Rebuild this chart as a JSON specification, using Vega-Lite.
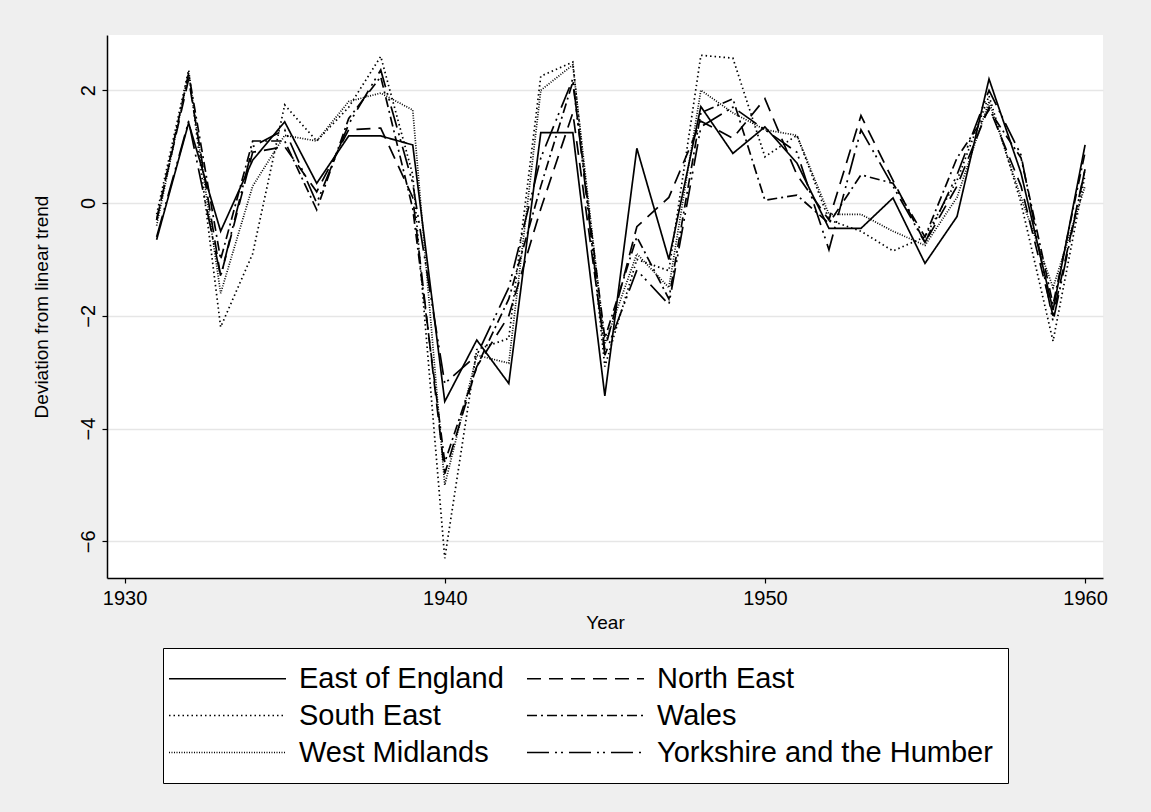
{
  "$schema": "https://vega.github.io/schema/vega-lite/v6.json",
  "autosize": "none",
  "width": 996,
  "height": 543,
  "padding": {"left": 107, "top": 35, "right": 48, "bottom": 234},
  "background": "#efefef",
  "config": {
    "font": "Liberation Sans",
    "view": {"fill": "white", "stroke": null},
    "axis": {"labelColor": "black", "titleColor": "black", "domainColor": "black", "tickColor": "black", "labelFont": "Liberation Sans", "titleFont": "Liberation Sans", "titleFontWeight": "normal"}
  },
  "data": {
    "values": [
      {"year": 1931, "region": "East of England", "dev": -0.65},
      {"year": 1932, "region": "East of England", "dev": 1.42},
      {"year": 1933, "region": "East of England", "dev": -0.5},
      {"year": 1934, "region": "East of England", "dev": 0.76},
      {"year": 1935, "region": "East of England", "dev": 1.44},
      {"year": 1936, "region": "East of England", "dev": 0.35},
      {"year": 1937, "region": "East of England", "dev": 1.19},
      {"year": 1938, "region": "East of England", "dev": 1.19},
      {"year": 1939, "region": "East of England", "dev": 1.03},
      {"year": 1940, "region": "East of England", "dev": -3.52},
      {"year": 1941, "region": "East of England", "dev": -2.43},
      {"year": 1942, "region": "East of England", "dev": -3.2},
      {"year": 1943, "region": "East of England", "dev": 1.25},
      {"year": 1944, "region": "East of England", "dev": 1.25},
      {"year": 1945, "region": "East of England", "dev": -3.42},
      {"year": 1946, "region": "East of England", "dev": 0.97},
      {"year": 1947, "region": "East of England", "dev": -1.0},
      {"year": 1948, "region": "East of England", "dev": 1.71},
      {"year": 1949, "region": "East of England", "dev": 0.88},
      {"year": 1950, "region": "East of England", "dev": 1.35},
      {"year": 1951, "region": "East of England", "dev": 0.71},
      {"year": 1952, "region": "East of England", "dev": -0.45},
      {"year": 1953, "region": "East of England", "dev": -0.45},
      {"year": 1954, "region": "East of England", "dev": 0.09},
      {"year": 1955, "region": "East of England", "dev": -1.07},
      {"year": 1956, "region": "East of England", "dev": -0.24},
      {"year": 1957, "region": "East of England", "dev": 2.2},
      {"year": 1958, "region": "East of England", "dev": 0.53},
      {"year": 1959, "region": "East of England", "dev": -1.9},
      {"year": 1960, "region": "East of England", "dev": 1.03},

      {"year": 1931, "region": "North East", "dev": -0.3},
      {"year": 1932, "region": "North East", "dev": 2.2},
      {"year": 1933, "region": "North East", "dev": -1.3},
      {"year": 1934, "region": "North East", "dev": 0.9},
      {"year": 1935, "region": "North East", "dev": 1.0},
      {"year": 1936, "region": "North East", "dev": 0.2},
      {"year": 1937, "region": "North East", "dev": 1.3},
      {"year": 1938, "region": "North East", "dev": 1.33},
      {"year": 1939, "region": "North East", "dev": 0.1},
      {"year": 1940, "region": "North East", "dev": -4.8},
      {"year": 1941, "region": "North East", "dev": -2.9},
      {"year": 1942, "region": "North East", "dev": -2.0},
      {"year": 1943, "region": "North East", "dev": -0.1},
      {"year": 1944, "region": "North East", "dev": 1.6},
      {"year": 1945, "region": "North East", "dev": -2.6},
      {"year": 1946, "region": "North East", "dev": -0.42},
      {"year": 1947, "region": "North East", "dev": 0.1},
      {"year": 1948, "region": "North East", "dev": 1.45},
      {"year": 1949, "region": "North East", "dev": 1.15},
      {"year": 1950, "region": "North East", "dev": 1.85},
      {"year": 1951, "region": "North East", "dev": 0.5},
      {"year": 1952, "region": "North East", "dev": -0.3},
      {"year": 1953, "region": "North East", "dev": 1.55},
      {"year": 1954, "region": "North East", "dev": 0.4},
      {"year": 1955, "region": "North East", "dev": -0.7},
      {"year": 1956, "region": "North East", "dev": 0.3},
      {"year": 1957, "region": "North East", "dev": 1.7},
      {"year": 1958, "region": "North East", "dev": 0.3},
      {"year": 1959, "region": "North East", "dev": -2.0},
      {"year": 1960, "region": "North East", "dev": 0.6},

      {"year": 1931, "region": "South East", "dev": -0.2},
      {"year": 1932, "region": "South East", "dev": 2.36},
      {"year": 1933, "region": "South East", "dev": -2.2},
      {"year": 1934, "region": "South East", "dev": -0.9},
      {"year": 1935, "region": "South East", "dev": 1.74},
      {"year": 1936, "region": "South East", "dev": 1.1},
      {"year": 1937, "region": "South East", "dev": 1.7},
      {"year": 1938, "region": "South East", "dev": 2.6},
      {"year": 1939, "region": "South East", "dev": 0.5},
      {"year": 1940, "region": "South East", "dev": -6.3},
      {"year": 1941, "region": "South East", "dev": -2.6},
      {"year": 1942, "region": "South East", "dev": -2.4},
      {"year": 1943, "region": "South East", "dev": 2.25},
      {"year": 1944, "region": "South East", "dev": 2.5},
      {"year": 1945, "region": "South East", "dev": -2.9},
      {"year": 1946, "region": "South East", "dev": -1.0},
      {"year": 1947, "region": "South East", "dev": -1.2},
      {"year": 1948, "region": "South East", "dev": 2.62},
      {"year": 1949, "region": "South East", "dev": 2.57},
      {"year": 1950, "region": "South East", "dev": 0.82},
      {"year": 1951, "region": "South East", "dev": 1.2},
      {"year": 1952, "region": "South East", "dev": -0.3},
      {"year": 1953, "region": "South East", "dev": -0.5},
      {"year": 1954, "region": "South East", "dev": -0.85},
      {"year": 1955, "region": "South East", "dev": -0.6},
      {"year": 1956, "region": "South East", "dev": 0.4},
      {"year": 1957, "region": "South East", "dev": 1.9},
      {"year": 1958, "region": "South East", "dev": 0.0},
      {"year": 1959, "region": "South East", "dev": -2.45},
      {"year": 1960, "region": "South East", "dev": 0.5},

      {"year": 1931, "region": "Wales", "dev": -0.3},
      {"year": 1932, "region": "Wales", "dev": 2.3},
      {"year": 1933, "region": "Wales", "dev": -1.0},
      {"year": 1934, "region": "Wales", "dev": 1.1},
      {"year": 1935, "region": "Wales", "dev": 1.1},
      {"year": 1936, "region": "Wales", "dev": -0.12},
      {"year": 1937, "region": "Wales", "dev": 1.5},
      {"year": 1938, "region": "Wales", "dev": 2.24},
      {"year": 1939, "region": "Wales", "dev": -0.1},
      {"year": 1940, "region": "Wales", "dev": -4.6},
      {"year": 1941, "region": "Wales", "dev": -2.9},
      {"year": 1942, "region": "Wales", "dev": -1.7},
      {"year": 1943, "region": "Wales", "dev": 0.3},
      {"year": 1944, "region": "Wales", "dev": 2.15},
      {"year": 1945, "region": "Wales", "dev": -2.4},
      {"year": 1946, "region": "Wales", "dev": -0.6},
      {"year": 1947, "region": "Wales", "dev": -1.7},
      {"year": 1948, "region": "Wales", "dev": 1.6},
      {"year": 1949, "region": "Wales", "dev": 1.85},
      {"year": 1950, "region": "Wales", "dev": 0.05},
      {"year": 1951, "region": "Wales", "dev": 0.14},
      {"year": 1952, "region": "Wales", "dev": -0.36},
      {"year": 1953, "region": "Wales", "dev": 0.5},
      {"year": 1954, "region": "Wales", "dev": 0.35},
      {"year": 1955, "region": "Wales", "dev": -0.6},
      {"year": 1956, "region": "Wales", "dev": 0.8},
      {"year": 1957, "region": "Wales", "dev": 1.65},
      {"year": 1958, "region": "Wales", "dev": 0.8},
      {"year": 1959, "region": "Wales", "dev": -1.8},
      {"year": 1960, "region": "Wales", "dev": 0.9},

      {"year": 1931, "region": "West Midlands", "dev": -0.4},
      {"year": 1932, "region": "West Midlands", "dev": 2.3},
      {"year": 1933, "region": "West Midlands", "dev": -1.6},
      {"year": 1934, "region": "West Midlands", "dev": 0.3},
      {"year": 1935, "region": "West Midlands", "dev": 1.2},
      {"year": 1936, "region": "West Midlands", "dev": 1.1},
      {"year": 1937, "region": "West Midlands", "dev": 1.8},
      {"year": 1938, "region": "West Midlands", "dev": 1.95},
      {"year": 1939, "region": "West Midlands", "dev": 1.65},
      {"year": 1940, "region": "West Midlands", "dev": -5.0},
      {"year": 1941, "region": "West Midlands", "dev": -2.7},
      {"year": 1942, "region": "West Midlands", "dev": -2.84},
      {"year": 1943, "region": "West Midlands", "dev": 2.0},
      {"year": 1944, "region": "West Midlands", "dev": 2.45},
      {"year": 1945, "region": "West Midlands", "dev": -2.5},
      {"year": 1946, "region": "West Midlands", "dev": -0.9},
      {"year": 1947, "region": "West Midlands", "dev": -1.5},
      {"year": 1948, "region": "West Midlands", "dev": 2.0},
      {"year": 1949, "region": "West Midlands", "dev": 1.6},
      {"year": 1950, "region": "West Midlands", "dev": 1.3},
      {"year": 1951, "region": "West Midlands", "dev": 1.2},
      {"year": 1952, "region": "West Midlands", "dev": -0.2},
      {"year": 1953, "region": "West Midlands", "dev": -0.2},
      {"year": 1954, "region": "West Midlands", "dev": -0.5},
      {"year": 1955, "region": "West Midlands", "dev": -0.75},
      {"year": 1956, "region": "West Midlands", "dev": 0.1},
      {"year": 1957, "region": "West Midlands", "dev": 1.8},
      {"year": 1958, "region": "West Midlands", "dev": 0.1},
      {"year": 1959, "region": "West Midlands", "dev": -1.5},
      {"year": 1960, "region": "West Midlands", "dev": 0.3},

      {"year": 1931, "region": "Yorkshire and the Humber", "dev": -0.6},
      {"year": 1932, "region": "Yorkshire and the Humber", "dev": 1.45},
      {"year": 1933, "region": "Yorkshire and the Humber", "dev": -1.3},
      {"year": 1934, "region": "Yorkshire and the Humber", "dev": 1.0},
      {"year": 1935, "region": "Yorkshire and the Humber", "dev": 1.3},
      {"year": 1936, "region": "Yorkshire and the Humber", "dev": 0.0},
      {"year": 1937, "region": "Yorkshire and the Humber", "dev": 1.4},
      {"year": 1938, "region": "Yorkshire and the Humber", "dev": 2.36},
      {"year": 1939, "region": "Yorkshire and the Humber", "dev": 0.35},
      {"year": 1940, "region": "Yorkshire and the Humber", "dev": -3.2},
      {"year": 1941, "region": "Yorkshire and the Humber", "dev": -2.7},
      {"year": 1942, "region": "Yorkshire and the Humber", "dev": -1.5},
      {"year": 1943, "region": "Yorkshire and the Humber", "dev": 0.8},
      {"year": 1944, "region": "Yorkshire and the Humber", "dev": 2.2},
      {"year": 1945, "region": "Yorkshire and the Humber", "dev": -2.7},
      {"year": 1946, "region": "Yorkshire and the Humber", "dev": -1.19},
      {"year": 1947, "region": "Yorkshire and the Humber", "dev": -1.8},
      {"year": 1948, "region": "Yorkshire and the Humber", "dev": 1.35},
      {"year": 1949, "region": "Yorkshire and the Humber", "dev": 1.7},
      {"year": 1950, "region": "Yorkshire and the Humber", "dev": 1.3},
      {"year": 1951, "region": "Yorkshire and the Humber", "dev": 0.9},
      {"year": 1952, "region": "Yorkshire and the Humber", "dev": -0.83},
      {"year": 1953, "region": "Yorkshire and the Humber", "dev": 1.3},
      {"year": 1954, "region": "Yorkshire and the Humber", "dev": 0.3},
      {"year": 1955, "region": "Yorkshire and the Humber", "dev": -0.7},
      {"year": 1956, "region": "Yorkshire and the Humber", "dev": 0.5},
      {"year": 1957, "region": "Yorkshire and the Humber", "dev": 2.0},
      {"year": 1958, "region": "Yorkshire and the Humber", "dev": 0.85},
      {"year": 1959, "region": "Yorkshire and the Humber", "dev": -2.1},
      {"year": 1960, "region": "Yorkshire and the Humber", "dev": 0.6}
    ]
  },
  "mark": {"type": "line", "color": "black", "strokeWidth": 1.7},
  "encoding": {
    "x": {
      "field": "year",
      "type": "quantitative",
      "scale": {"domain": [1929.45, 1960.56], "nice": false, "zero": false},
      "axis": {
        "title": "Year",
        "values": [1930, 1940, 1950, 1960],
        "format": "d",
        "grid": false,
        "domainWidth": 1.5,
        "tickSize": 5,
        "tickWidth": 1.2,
        "labelFontSize": 20,
        "labelPadding": 5,
        "titleFontSize": 19,
        "titlePadding": 5,
        "labelFlush": false
      }
    },
    "y": {
      "field": "dev",
      "type": "quantitative",
      "scale": {"domain": [-6.65, 2.98], "nice": false, "zero": false},
      "axis": {
        "title": "Deviation from linear trend",
        "values": [-6, -4, -2, 0, 2],
        "grid": true,
        "gridColor": "#e6e6e6",
        "gridWidth": 1.5,
        "domainWidth": 1.5,
        "tickSize": 5,
        "tickWidth": 1.2,
        "labelAngle": -90,
        "labelAlign": "center",
        "labelBaseline": "bottom",
        "labelFontSize": 20,
        "labelPadding": 4,
        "titleFontSize": 19,
        "titlePadding": 27
      }
    },
    "strokeDash": {
      "field": "region",
      "type": "nominal",
      "scale": {
        "domain": ["East of England", "South East", "West Midlands", "North East", "Wales", "Yorkshire and the Humber"],
        "range": [[1, 0], [1.5, 3], [1, 1.5], [14, 8], [10, 4, 2, 4], [22, 6, 2, 4, 2, 6]]
      },
      "legend": {
        "title": null,
        "orient": "none",
        "legendX": 56,
        "legendY": 613,
        "columns": 2,
        "columnPadding": 19,
        "rowPadding": 6,
        "padding": 15,
        "fillColor": "white",
        "strokeColor": "black",
        "symbolType": "M-1.69,0H6.38",
        "symbolSize": 841,
        "symbolStrokeWidth": 1.7,
        "symbolStrokeColor": "black",
        "symbolFillColor": "transparent",
        "labelFontSize": 29,
        "labelFont": "Liberation Sans",
        "labelColor": "black",
        "labelOffset": 90,
        "labelLimit": 600
      }
    }
  }
}
